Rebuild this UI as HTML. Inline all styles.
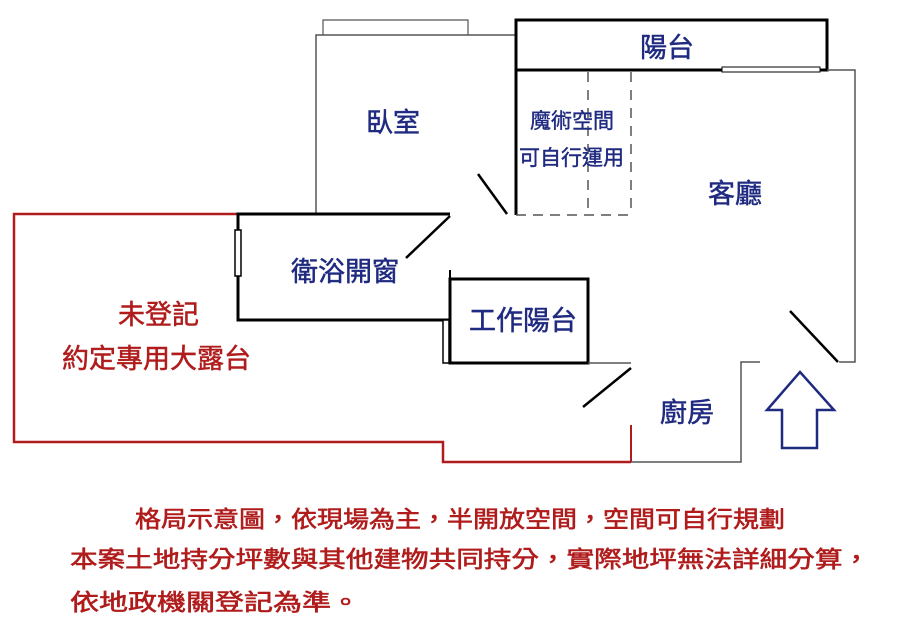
<!DOCTYPE html>
<html><head><meta charset="utf-8"><style>
html,body{margin:0;padding:0;background:#fff;}
svg{display:block;}
text{font-family:"Liberation Sans","Noto Sans CJK TC",sans-serif;}
</style></head><body>
<svg width="900" height="627" viewBox="0 0 900 627" xmlns="http://www.w3.org/2000/svg">
<polyline points="238,214 14,214 14,442 443,442 443,462 631,462" fill="none" stroke="#b01c1c" stroke-width="2.5"/>
<line x1="631" y1="425" x2="631" y2="462" stroke="#b01c1c" stroke-width="2"/>
<polyline points="316,214 316,35 516,35" fill="none" stroke="#555" stroke-width="1.5"/>
<polyline points="323,35 323,20 468,20 468,35" fill="none" stroke="#555" stroke-width="1.2"/>
<line x1="516" y1="20" x2="516" y2="215" stroke="#000" stroke-width="3"/>
<line x1="478" y1="174" x2="507" y2="214" stroke="#000" stroke-width="2.5"/>
<rect x="516" y="20" width="311" height="50" fill="none" stroke="#000" stroke-width="3"/>
<rect x="722" y="67" width="98" height="5" fill="#fff" stroke="#000" stroke-width="1"/>
<line x1="588" y1="72" x2="588" y2="215" stroke="#555" stroke-width="1.5" stroke-dasharray="10,8"/>
<line x1="631" y1="72" x2="631" y2="215" stroke="#555" stroke-width="1.5" stroke-dasharray="10,8"/>
<line x1="516" y1="215" x2="631" y2="215" stroke="#555" stroke-width="1.5" stroke-dasharray="10,7"/>
<polyline points="827,70 855,70 855,362 839,362" fill="none" stroke="#555" stroke-width="1.5"/>
<line x1="790" y1="311" x2="838" y2="362" stroke="#000" stroke-width="2.5"/>
<polyline points="450,214 238,214 238,320 450,320" fill="none" stroke="#000" stroke-width="3"/>
<line x1="450" y1="216" x2="406" y2="258" stroke="#000" stroke-width="2.5"/>
<rect x="235" y="230" width="6" height="46" fill="#fff" stroke="#000" stroke-width="1.5"/>
<rect x="450" y="279" width="138" height="84" fill="none" stroke="#000" stroke-width="3"/>
<line x1="450" y1="270" x2="450" y2="279" stroke="#000" stroke-width="2"/>
<rect x="443" y="320" width="6" height="43" fill="#fff" stroke="#000" stroke-width="1.5"/>
<line x1="588" y1="363" x2="631" y2="363" stroke="#555" stroke-width="1.5"/>
<line x1="583" y1="407" x2="631" y2="368" stroke="#000" stroke-width="2.5"/>
<polyline points="760,362 741,362 741,462 631,462" fill="none" stroke="#555" stroke-width="1.5"/>
<polygon points="800,372 834,410 817,410 817,448 782,448 782,410 767,410" fill="none" stroke="#1f2a80" stroke-width="2.5"/>
<g fill="#1f2a80" font-size="27" stroke="#1f2a80" stroke-width="0.5">
<text x="366" y="132">臥室</text>
<text x="640" y="57">陽台</text>
<text x="708" y="203">客廳</text>
<text x="291" y="281">衛浴開窗</text>
<text x="469" y="330">工作陽台</text>
<text x="660" y="422">廚房</text>
</g>
<g fill="#1f2a80" font-size="21" stroke="#1f2a80" stroke-width="0.4">
<text x="530" y="128">魔術空間</text>
<text x="519" y="165">可自行運用</text>
</g>
<g fill="#b01c1c" font-size="27" stroke="#b01c1c" stroke-width="0.5">
<text x="118" y="324">未登記</text>
<text x="62" y="368">約定專用大露台</text>
</g>
<g fill="#b01c1c" font-size="23" stroke="#b01c1c" stroke-width="0.6">
<text x="135" y="527" textLength="650" lengthAdjust="spacingAndGlyphs">格局示意圖，依現場為主，半開放空間，空間可自行規劃</text>
<text x="70" y="567" textLength="800" lengthAdjust="spacingAndGlyphs">本案土地持分坪數與其他建物共同持分，實際地坪無法詳細分算，</text>
<text x="70" y="610" textLength="290" lengthAdjust="spacingAndGlyphs">依地政機關登記為準。</text>
</g>
</svg>
</body></html>
